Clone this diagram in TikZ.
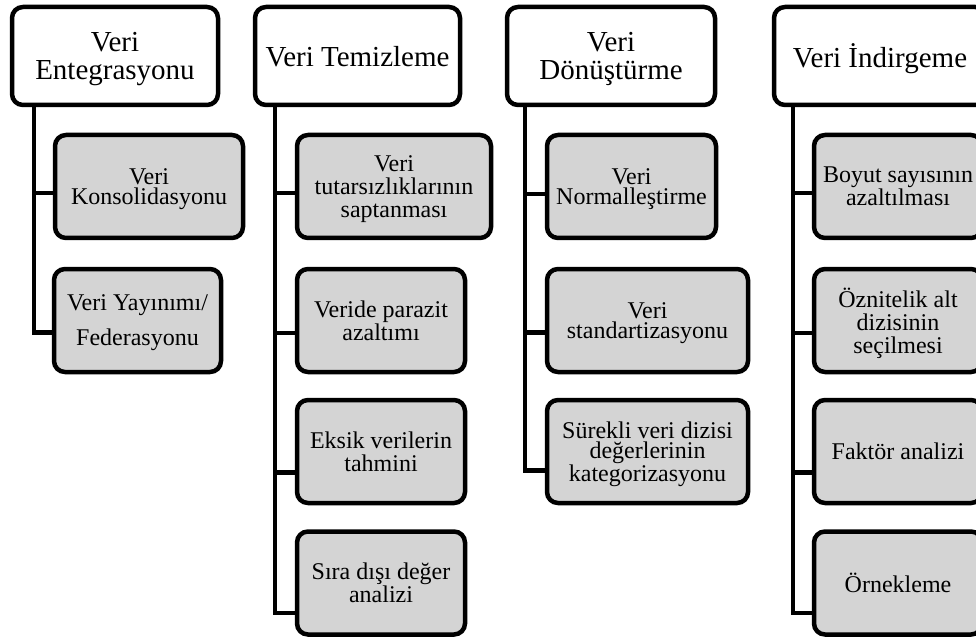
\documentclass[tikz,border=0pt]{standalone}
\usepackage{fontspec}
\setmainfont{Liberation Serif}
\usetikzlibrary{calc}
\begin{document}
\begin{tikzpicture}[x=1pt,y=-1pt,
  box/.style={draw=black,line width=4.5pt,rounded corners=11pt,
    align=center,inner sep=2pt,text depth=0pt},
  head/.style={box,fill=white,minimum height=98pt,
    font=\fontsize{29}{28}\selectfont},
  item/.style={box,fill=black!17,minimum height=103pt,
    font=\fontsize{24}{23}\selectfont},
  tight/.style={font=\fontsize{24}{20.5}\selectfont},
  link/.style={draw=black,line width=4.5pt,line join=miter}]
\useasboundingbox (0,0) rectangle (976,644);
\clip (0,0) rectangle (976,644);

% trunk positions
\coordinate (t1) at (34,0);
\coordinate (t2) at (275,0);
\coordinate (t3) at (525,0);
\coordinate (t4) at (793,0);

% column headers
\node[head,minimum width=206pt] (h1) at (115,56) {Veri\\Entegrasyonu};
\node[head,minimum width=205pt] (h2) at (357.5,56) {Veri Temizleme};
\node[head,minimum width=208pt] (h3) at (611,56) {Veri\\Dönüştürme};
\node[head,minimum width=212pt] (h4) at (880,56) {Veri İndirgeme};

% Veri Entegrasyonu
\node[item,tight,text depth=-8pt,minimum width=188pt] (a1) at (149,186.5) {Veri\\Konsolidasyonu};
\node[item,minimum width=167pt] (a2) at (137.5,320.5) {Veri Yayınımı/\\[12pt]Federasyonu};

% Veri Temizleme
\node[item,minimum width=194pt] (b1) at (394,186.5) {Veri\\tutarsızlıklarının\\saptanması};
\node[item,minimum width=168pt] (b2) at (381,320.5) {Veride parazit\\azaltımı};
\node[item,minimum width=168pt] (b3) at (381,451.5) {Eksik verilerin\\tahmini};
\node[item,minimum width=168pt] (b4) at (381,583) {Sıra dışı değer\\analizi};

% Veri Dönüştürme
\node[item,tight,text depth=-12pt,minimum width=169pt] (c1) at (631.5,186.5) {Veri\\Normalleştirme};
\node[item,tight,text depth=-9pt,minimum width=201pt] (c2) at (647.5,320.5) {Veri\\standartizasyonu};
\node[item,tight,minimum width=201pt] (c3) at (647.5,451.5) {Sürekli veri dizisi\\değerlerinin\\kategorizasyonu};

% Veri İndirgeme
\node[item,tight,minimum width=168pt] (d1) at (898,186.5) {Boyut sayısının\\azaltılması};
\node[item,minimum width=168pt] (d2) at (898,320.5) {Öznitelik alt\\dizisinin\\seçilmesi};
\node[item,minimum width=168pt] (d3) at (898,451.5) {Faktör analizi};
\node[item,minimum width=168pt] (d4) at (898,583) {Örnekleme};

% branch points on each child (slightly below centre, growing per row)
\coordinate (pa1) at ($(a1.west)+(0,6.5)$);
\coordinate (pa2) at ($(a2.west)+(0,12)$);
\coordinate (pb1) at ($(b1.west)+(0,6.5)$);
\coordinate (pb2) at ($(b2.west)+(0,12.5)$);
\coordinate (pb3) at ($(b3.west)+(0,21)$);
\coordinate (pb4) at ($(b4.west)+(0,30)$);
\coordinate (pc1) at ($(c1.west)+(0,7.5)$);
\coordinate (pc2) at ($(c2.west)+(0,12)$);
\coordinate (pc3) at ($(c3.west)+(0,19)$);
\coordinate (pd1) at ($(d1.west)+(0,6.5)$);
\coordinate (pd2) at ($(d2.west)+(0,12.5)$);
\coordinate (pd3) at ($(d3.west)+(0,21)$);
\coordinate (pd4) at ($(d4.west)+(0,30)$);

% trunks ending in the last branch
\draw[link] (h1.south -| t1) |- (pa2);
\draw[link] (t1 |- pa1) -- (pa1);

\draw[link] (h2.south -| t2) |- (pb4);
\draw[link] (t2 |- pb1) -- (pb1);
\draw[link] (t2 |- pb2) -- (pb2);
\draw[link] (t2 |- pb3) -- (pb3);

\draw[link] (h3.south -| t3) |- (pc3);
\draw[link] (t3 |- pc1) -- (pc1);
\draw[link] (t3 |- pc2) -- (pc2);

\draw[link] (h4.south -| t4) |- (pd4);
\draw[link] (t4 |- pd1) -- (pd1);
\draw[link] (t4 |- pd2) -- (pd2);
\draw[link] (t4 |- pd3) -- (pd3);
\end{tikzpicture}
\end{document}
